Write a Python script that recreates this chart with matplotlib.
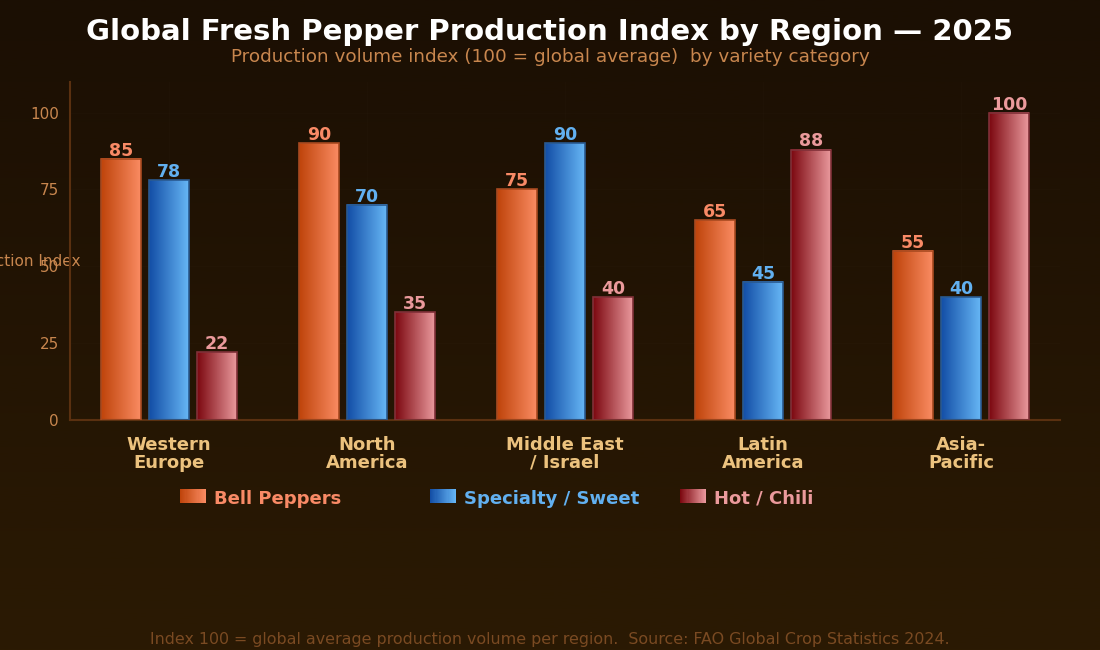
import numpy as np
import matplotlib
matplotlib.use("Agg")
import matplotlib.pyplot as plt
from matplotlib.colors import LinearSegmentedColormap, to_rgb
from matplotlib.legend_handler import HandlerBase
from matplotlib.patches import Rectangle, Patch

# donnees
regions = ["Western\nEurope", "North\nAmerica", "Middle East\n/ Israel",
           "Latin\nAmerica", "Asia-\nPacific"]
bell = [85, 90, 75, 65, 55]
specialty = [78, 70, 90, 45, 40]
hot = [22, 35, 40, 88, 100]
series = ["Bell Peppers", "Specialty / Sweet", "Hot / Chili"]
yticks = [0, 25, 50, 75, 100]

# degrades (gauche -> droite) et couleur des etiquettes
DEGRADES = [("#bf440b", "#fa8b62"), ("#134ea6", "#66b6f5"), ("#7c0810", "#e9989c")]
ETIQ = ["#f98a66", "#62b0f0", "#eb9a9c"]
BORD = ["#a84a20", "#2a5a90", "#803038"]
TICK = "#c8864e"
XLAB = "#ecc27e"

W, PAS = 0.202, 0.242


class HandlerDegrade(HandlerBase):
    def __init__(self, c0, c1, n=24):
        super().__init__()
        self.c0, self.c1, self.n = np.array(to_rgb(c0)), np.array(to_rgb(c1)), n

    def create_artists(self, legend, orig, xd, yd, width, height, fontsize, trans):
        arts = []
        for i in range(self.n):
            t = i / (self.n - 1)
            arts.append(Rectangle((xd + width * i / self.n, yd),
                                  width / self.n * 1.05, height,
                                  color=(1 - t) * self.c0 + t * self.c1,
                                  lw=0, transform=trans))
        return arts


fig = plt.figure(figsize=(11, 6.5), dpi=100)
# fond degrade vertical
fond = fig.add_axes([0, 0, 1, 1], zorder=-10)
fond.imshow(np.linspace(0, 1, 256)[:, None], aspect="auto", extent=(0, 1, 0, 1),
            cmap=LinearSegmentedColormap.from_list("f", ["#1b0f03", "#2b1a03"]),
            origin="upper")
fond.axis("off")

ax = fig.add_axes([0.0636, 0.354, 0.9, 0.52])
ax.patch.set_alpha(0)
x = np.arange(len(regions))

for k, vals in enumerate((bell, specialty, hot)):
    cmap = LinearSegmentedColormap.from_list(f"g{k}", DEGRADES[k])
    pos = x + (k - 1) * PAS
    barres = ax.bar(pos, vals, W, color="none", edgecolor=BORD[k], lw=1.2, zorder=3)
    for b, v in zip(barres, vals):
        x0 = b.get_x()
        ax.imshow(np.linspace(0, 1, 64)[None, :], cmap=cmap, aspect="auto",
                  extent=(x0, x0 + W, 0, v), zorder=2)
        ax.text(x0 + W / 2, v - 0.3, f"{v}", ha="center", va="bottom",
                fontsize=12.5, fontweight="bold", color=ETIQ[k], zorder=4)
ax.set_xlim(-0.5, len(regions) - 0.5)
ax.set_ylim(0, 110)

ax.set_xticks(x)
ax.set_xticklabels(regions, fontsize=13, fontweight="bold", color=XLAB,
                   linespacing=1.0)
ax.set_yticks(yticks)
ax.tick_params(axis="y", colors=TICK, labelsize=11, length=0, pad=8)
ax.tick_params(axis="x", length=0, pad=11.5)
for s in ("top", "right"):
    ax.spines[s].set_visible(False)
for s in ("left", "bottom"):
    ax.spines[s].set_color("#5a3010")
    ax.spines[s].set_linewidth(1.5)
ax.grid(True, color="white", alpha=0.012, lw=1)
ax.set_axisbelow(True)
ax.set_ylabel("Production Index", rotation=0, fontsize=11, color=TICK,
              ha="center", va="center")
ax.yaxis.set_label_coords(-0.054, 0.47)

# legende : trois entrees a positions fixes
for k, (nom, xpos) in enumerate(zip(series, (0.1636, 0.3909, 0.618))):
    leg = fig.legend([Patch()], [nom], loc="center left",
                     bbox_to_anchor=(xpos, 0.233), frameon=False,
                     handler_map={Patch: HandlerDegrade(*DEGRADES[k])},
                     handlelength=1.45, handleheight=0.8, handletextpad=0.45,
                     prop={"size": 13, "weight": "bold"}, borderpad=0, borderaxespad=0)
    leg.get_texts()[0].set_color(ETIQ[k])

fig.text(0.5, 0.951, "Global Fresh Pepper Production Index by Region — 2025",
         ha="center", va="center", fontsize=21, fontweight="bold", color="white")
fig.text(0.5, 0.912, "Production volume index (100 = global average)  by variety category",
         ha="center", va="center", fontsize=13.2, color="#c8864e")
fig.text(0.5, 0.005, "Index 100 = global average production volume per region.  "
         "Source: FAO Global Crop Statistics 2024.",
         ha="center", va="bottom", fontsize=11.4, color="#7a4a22")

fig.savefig("out.png", dpi=100)
